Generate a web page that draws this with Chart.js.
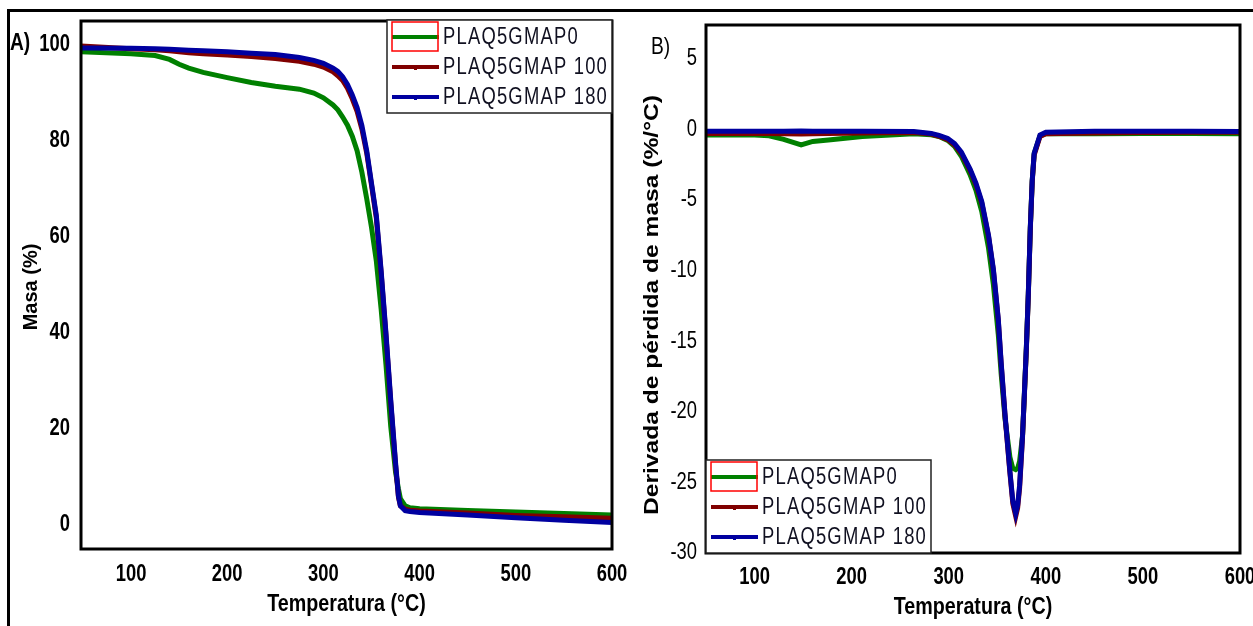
<!DOCTYPE html>
<html><head><meta charset="utf-8">
<script src="https://cdn.jsdelivr.net/npm/chart.js@4.4.0/dist/chart.umd.min.js"></script>
<style>
html,body{margin:0;padding:0;background:#fff;width:1253px;height:626px;overflow:hidden;position:relative}
#frame{position:absolute;left:7px;top:9px;width:1260px;height:640px;border-left:3px solid #000;border-top:3px solid #000;}
#wa{position:absolute;left:0;top:0;width:630px;height:626px}
#wb{position:absolute;left:630px;top:0;width:623px;height:626px}
.lab{position:absolute;font-family:'Liberation Sans',Arial,sans-serif;font-size:24px;color:#000;transform:scaleX(0.8);transform-origin:0 0}
</style></head><body>
<div id="frame"></div>
<div id="wa"><canvas id="ca" width="630" height="626"></canvas></div>
<div id="wb"><canvas id="cb" width="623" height="626"></canvas></div>
<div class="lab" style="left:10px;top:28px;font-weight:bold">A)</div>
<div class="lab" style="left:651px;top:32px">B)</div>
<script>
// ---------- data ----------
const seriesNames = ['PLAQ5GMAP0', 'PLAQ5GMAP 100', 'PLAQ5GMAP 180'];
const seriesColors = ['#008000', '#800000', '#0000a0'];

// Panel A: mass (%) vs temperature (°C)
const tempA = [48,100,125,140,150,160,175,200,225,250,275,290,300,310,315,320,325,330,335,340,345,350,355,360,365,370,375,378,380,385,390,400,450,500,550,600];
const massP0 = [98.6,98.2,97.8,97.0,96.0,95.2,94.3,93.2,92.2,91.4,90.8,90.0,89.0,87.5,86.5,85.0,83.3,81.0,78.0,73.5,68.0,62.0,55.0,45.0,33.5,20.5,11.0,7.5,5.5,4.0,3.6,3.4,3.0,2.7,2.4,2.1];
const massP100 = [99.8,99.2,99.0,98.8,98.6,98.4,98.2,97.9,97.6,97.2,96.6,96.0,95.4,94.4,93.6,92.6,91.0,88.8,86.2,82.5,77.5,70.8,64.0,52.5,39.5,25.5,12.5,5.8,4.0,3.3,3.1,2.9,2.5,2.0,1.7,1.4];
const massP180 = [99.4,99.3,99.2,99.1,99.0,98.9,98.8,98.6,98.3,98.0,97.4,96.8,96.2,95.2,94.5,93.4,91.8,89.6,87.0,83.2,78.0,71.2,64.5,53.0,40.0,26.0,13.0,6.0,4.0,3.0,2.8,2.6,2.1,1.5,1.0,0.5];

// Panel B: derivative of mass loss (%/°C) vs temperature (°C)
const tempB = [50,100,115,130,148,160,176,211,264,282,290,299,306,313,322,328,334,341,346,351,354,358,363,366,369,371,373,376,378,380,382,384,386,388,394,400,450,500,550,600];
const dtgP0 = [-0.4,-0.4,-0.45,-0.7,-1.1,-0.85,-0.75,-0.5,-0.3,-0.38,-0.5,-0.78,-1.2,-1.9,-3.2,-4.3,-5.8,-8.4,-11.0,-14.5,-17.3,-20.5,-23.2,-24.0,-24.1,-24.0,-23.5,-21.7,-18.6,-15.4,-11.6,-7.0,-3.6,-1.7,-0.45,-0.3,-0.3,-0.28,-0.28,-0.3];
const dtgP100 = [-0.28,-0.28,-0.28,-0.3,-0.32,-0.3,-0.28,-0.25,-0.22,-0.32,-0.48,-0.72,-1.1,-1.7,-2.9,-3.9,-5.2,-7.6,-10.0,-13.5,-16.6,-20.3,-24.3,-26.5,-27.4,-26.8,-25.4,-21.8,-18.7,-15.5,-11.7,-7.1,-3.7,-1.8,-0.5,-0.3,-0.25,-0.22,-0.2,-0.2];
const dtgP180 = [-0.12,-0.12,-0.12,-0.12,-0.1,-0.12,-0.12,-0.12,-0.14,-0.28,-0.42,-0.64,-1.0,-1.6,-2.8,-3.8,-5.1,-7.5,-9.9,-13.4,-16.5,-20.2,-24.2,-26.3,-27.2,-26.6,-25.2,-21.7,-18.6,-15.4,-11.6,-7.0,-3.6,-1.7,-0.4,-0.2,-0.12,-0.12,-0.12,-0.14];

const xTicks = [100,200,300,400,500,600];
const yTicksA = [0,20,40,60,80,100];
const yTicksB = [5,0,-5,-10,-15,-20,-25,-30];

// ---------- helpers ----------
const SANS = "'Liberation Sans',Arial,sans-serif";
const pts = (xs, ys) => xs.map((x, i) => ({x, y: ys[i]}));
function datasets(xs, list) {
  return list.map((ys, i) => ({
    label: seriesNames[i], data: pts(xs, ys),
    borderColor: seriesColors[i], backgroundColor: seriesColors[i],
    borderWidth: 5, pointRadius: 0, tension: 0, fill: false, order: 3 - i
  }));
}
function narrowText(ctx, text, x, y, font, align, sx, rot) {
  ctx.save();
  ctx.translate(x, y);
  if (rot) ctx.rotate(rot);
  ctx.scale(sx, 1);
  ctx.font = font; ctx.textAlign = align; ctx.textBaseline = 'middle';
  ctx.fillText(text, 0, 0);
  ctx.restore();
}
const framePlugin = {
  id: 'frameBox',
  afterDatasetsDraw(chart) {
    const {ctx, chartArea: a} = chart;
    ctx.save(); ctx.strokeStyle = '#000'; ctx.lineWidth = 3;
    ctx.strokeRect(a.left, a.top, a.right - a.left, a.bottom - a.top);
    ctx.restore();
  }
};
const axisTextPlugin = {
  id: 'axisText',
  afterDraw(chart, args, o) {
    const {ctx, chartArea: a} = chart;
    const xs = chart.scales.x, ys = chart.scales.y;
    ctx.save();
    ctx.fillStyle = '#000';
    xs.ticks.forEach(t => narrowText(ctx, String(t.value), xs.getPixelForValue(t.value), a.bottom + o.xdy, 'bold 23px ' + SANS, 'center', 0.8));
    ys.ticks.forEach(t => narrowText(ctx, String(t.value), a.left - o.ydx, ys.getPixelForValue(t.value), (o.ybold ? 'bold ' : '') + '23px ' + SANS, 'right', 0.8));
    narrowText(ctx, 'Temperatura (°C)', (a.left + a.right) / 2, o.xtY, 'bold 24px ' + SANS, 'center', 0.82);
    narrowText(ctx, o.ytitle, o.ytX, o.ytY, 'bold ' + o.ytsize + 'px ' + SANS, 'center', o.ytsx, -Math.PI / 2);
    ctx.restore();
  }
};
const legendPlugin = {
  id: 'boxLegend',
  afterDraw(chart, args, opts) {
    const {ctx, chartArea: a} = chart;
    const w = 225, h = 93;
    const x0 = opts.corner === 'tr' ? a.right - w : a.left;
    const y0 = opts.corner === 'tr' ? a.top - 1 : a.bottom - h;
    ctx.save();
    ctx.fillStyle = '#fff'; ctx.fillRect(x0, y0, w, h);
    ctx.strokeStyle = '#222'; ctx.lineWidth = 1.5; ctx.strokeRect(x0, y0, w, h);
    ctx.font = '23px ' + SANS;
    ctx.textBaseline = 'middle';
    ctx.letterSpacing = '0px';
    const ref = seriesNames[1];
    const w0 = ctx.measureText(ref).width;
    const sp = Math.max(0, (165 / 0.8 - w0) / ref.length);
    chart.data.datasets.forEach((ds, i) => {
      const cy = y0 + 17 + i * 30;
      ctx.strokeStyle = ds.borderColor; ctx.lineWidth = 4;
      ctx.beginPath(); ctx.moveTo(x0 + 5, cy); ctx.lineTo(x0 + 52, cy); ctx.stroke();
      if (i === 0) { ctx.strokeStyle = '#f00'; ctx.lineWidth = 1.5; ctx.strokeRect(x0 + 5, cy - 15, 46, 29); }
      else { ctx.fillStyle = ds.borderColor; ctx.fillRect(x0 + 27, cy, 3, 3); }
      ctx.save();
      ctx.translate(x0 + 56, cy + 1); ctx.scale(0.8, 1);
      ctx.letterSpacing = sp.toFixed(2) + 'px';
      ctx.fillStyle = '#101020'; ctx.fillText(ds.label, 0, 0);
      ctx.restore();
    });
    ctx.restore();
  }
};
function opts(c) {
  return {
    responsive: false, animation: false, devicePixelRatio: 1,
    layout: {padding: {left: 0, top: c.top, right: c.right, bottom: 0}},
    plugins: {legend: {display: false}, tooltip: {enabled: false}, boxLegend: {corner: c.corner}, axisText: c.text},
    scales: {
      x: {
        type: 'linear', min: c.xmin, max: 600,
        afterBuildTicks: s => { s.ticks = xTicks.map(v => ({value: v})); },
        afterFit: s => { s.height = c.xh; s.paddingLeft = 0; s.paddingRight = 0; },
        grid: {display: false, drawTicks: false}, border: {display: false},
        ticks: {display: false}
      },
      y: {
        type: 'linear', min: c.ymin, max: c.ymax,
        afterBuildTicks: s => { s.ticks = c.yticks.map(v => ({value: v})); },
        afterFit: s => { s.width = c.yw; s.paddingTop = 0; s.paddingBottom = 0; },
        grid: {display: false, drawTicks: false}, border: {display: false},
        ticks: {display: false}
      }
    }
  };
}
new Chart(document.getElementById('ca'), {
  type: 'line',
  data: {datasets: datasets(tempA, [massP0, massP100, massP180])},
  options: opts({top: 21, right: 18, corner: 'tr', xmin: 48, xh: 77, ymin: -5, ymax: 105, yticks: yTicksA, yw: 81,
    text: {xdy: 26, ydx: 11, ybold: true, xtY: 604, ytitle: 'Masa (%)', ytX: 31, ytY: 287, ytsize: 20, ytsx: 1.0}}),
  plugins: [framePlugin, legendPlugin, axisTextPlugin]
});
new Chart(document.getElementById('cb'), {
  type: 'line',
  data: {datasets: datasets(tempB, [dtgP0, dtgP100, dtgP180])},
  options: opts({top: 25, right: 13, corner: 'bl', xmin: 50, xh: 73, ymin: -30, ymax: 7.4, yticks: yTicksB, yw: 76,
    text: {xdy: 25, ydx: 9, ybold: false, xtY: 607, ytitle: 'Derivada de pérdida de masa (%/°C)', ytX: 22, ytY: 305, ytsize: 20, ytsx: 1.23}}),
  plugins: [framePlugin, legendPlugin, axisTextPlugin]
});
</script>
</body></html>
